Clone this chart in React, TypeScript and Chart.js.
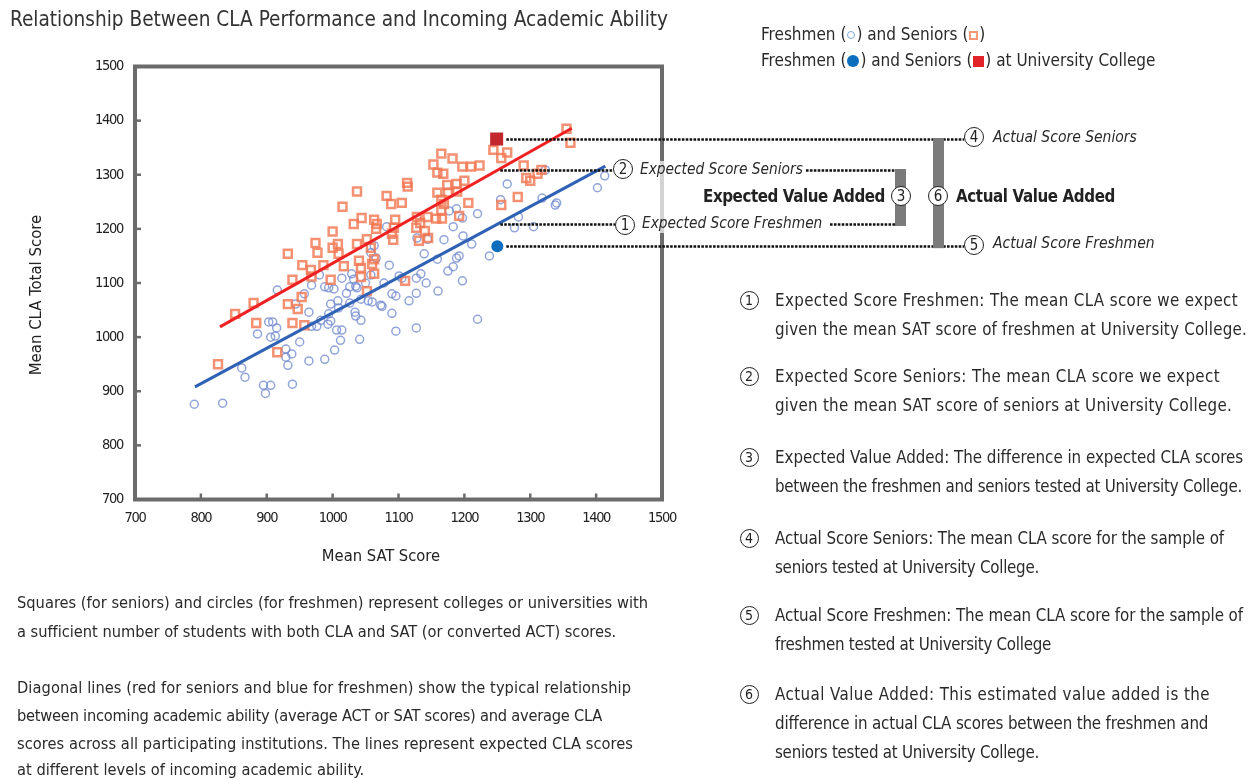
import React, { useEffect, useLayoutEffect, useRef } from "react";
import { Chart, registerables } from "chart.js";
Chart.register(...registerables);

const FONT = '"Liberation Sans Narrow", "DejaVu Sans Condensed", Roboto, sans-serif';

const xTicks = [700, 800, 900, 1000, 1100, 1200, 1300, 1400, 1500];
const yTicks = [700, 800, 900, 1000, 1100, 1200, 1300, 1400, 1500];

const seniorSAT = [826, 852, 880, 884, 916, 932, 939, 947, 953, 957, 932, 939, 954, 967, 977, 986, 997, 1009, 1017, 1040, 1043, 1052, 1063, 1063, 974, 968, 1000, 1000, 1008, 1015, 1032, 1037, 1037, 1244, 1256, 1265, 1290, 1294, 1281, 1256, 1165, 1182, 1153, 1159, 1168, 1197, 1210, 1223, 1200, 1188, 1174, 1189, 1175, 1159, 1165, 1169, 1206, 1113, 1114, 1082, 1089, 1105, 1044, 1063, 1067, 1066, 1095, 1093, 1090, 1092, 1128, 1133, 1144, 1157, 1166, 1165, 1192, 1127, 1140, 1145, 1131, 1043, 1060, 1058, 1052, 1110, 1355, 1361, 1300, 1311, 1317];
const seniorCLA = [950, 1043, 1063, 1026, 972, 1061, 1026, 1052, 1074, 1022, 1154, 1106, 1133, 1124, 1156, 1133, 1106, 1154, 1131, 1141, 1111, 1085, 1117, 1144, 1174, 1112, 1195, 1165, 1172, 1241, 1209, 1269, 1172, 1346, 1331, 1341, 1317, 1294, 1259, 1244, 1339, 1330, 1319, 1304, 1302, 1315, 1315, 1317, 1289, 1283, 1281, 1269, 1267, 1267, 1254, 1246, 1248, 1285, 1278, 1261, 1246, 1248, 1220, 1217, 1209, 1200, 1217, 1202, 1191, 1180, 1222, 1211, 1222, 1219, 1219, 1235, 1224, 1202, 1196, 1183, 1178, 1128, 1135, 1165, 1181, 1104, 1385, 1359, 1289, 1302, 1309];

const freshmanSAT = [790, 833, 862, 867, 895, 906, 898, 939, 886, 903, 909, 906, 915, 913, 929, 929, 938, 932, 950, 964, 988, 1003, 1012, 1041, 916, 944, 964, 968, 976, 993, 994, 997, 1006, 997, 1008, 968, 957, 988, 994, 1002, 1014, 1029, 1021, 1026, 1035, 1026, 1034, 1035, 1043, 1043, 1054, 1060, 1050, 1058, 1066, 1073, 980, 1032, 1009, 982, 1265, 1255, 1282, 1276, 1238, 1220, 1211, 1198, 1197, 1188, 1177, 1183, 1169, 1192, 1188, 1183, 1175, 1197, 1160, 1159, 1139, 1128, 1144, 1134, 1127, 1142, 1127, 1116, 1105, 1101, 1086, 1082, 1090, 1096, 1075, 1090, 1127, 1096, 1078, 1058, 1063, 1220, 1037, 1014, 1323, 1340, 1338, 1318, 1305, 1402, 1413];
const freshmanCLA = [876, 878, 943, 926, 911, 911, 896, 913, 1006, 1028, 1028, 1000, 1017, 1002, 978, 963, 969, 948, 991, 956, 959, 976, 994, 996, 1087, 1061, 1046, 1020, 1020, 1024, 1043, 1030, 1013, 1061, 1067, 1096, 1080, 1093, 1091, 1089, 1109, 1117, 1081, 1093, 1094, 1063, 1046, 1039, 1031, 1070, 1067, 1065, 1100, 1115, 1146, 1059, 1115, 1107, 1054, 1031, 1283, 1254, 1222, 1202, 1150, 1228, 1172, 1187, 1220, 1237, 1233, 1204, 1180, 1150, 1146, 1130, 1122, 1104, 1085, 1144, 1154, 1183, 1181, 1117, 1109, 1100, 1081, 1067, 1109, 1113, 1133, 1204, 1080, 1076, 1057, 1044, 1017, 1011, 1100, 1156, 1169, 1033, 1091, 1013, 1309, 1248, 1244, 1257, 1204, 1276, 1298];

const ucSeniorSAT = 1249;
const ucSeniorCLA = 1366;
const ucFreshmanSAT = 1250;
const ucFreshmanCLA = 1168;

const seniorLineSAT = [829, 1363];
const seniorLineCLA = [1019, 1386];
const freshmanLineSAT = [791, 1414];
const freshmanLineCLA = [908, 1316];

function lineAt(xs: number[], ys: number[], v: number) {
  return ys[0] + ((ys[1] - ys[0]) / (xs[1] - xs[0])) * (v - xs[0]);
}

const pts = (xs: number[], ys: number[]) => xs.map((x, i) => ({ x, y: ys[i] }));

const tickSpacing = {
  id: "tickSpacing",
  beforeDraw(chart: any) {
    chart.ctx.letterSpacing = "-1.3px";
  },
  afterDraw(chart: any) {
    chart.ctx.letterSpacing = "0px";
  },
};

const annotPlugin = {
  id: "annot",
  afterDraw(chart: any) {
    const { ctx, chartArea: a } = chart;
    const x = chart.scales.x;
    const y = chart.scales.y;
    ctx.save();
    ctx.strokeStyle = "#6b6b6b";
    ctx.lineWidth = 4;
    ctx.strokeRect(a.left, a.top, a.right - a.left, a.bottom - a.top);
    ctx.lineWidth = 2.5;
    yTicks.slice(1, -1).forEach((v) => {
      const py = y.getPixelForValue(v);
      ctx.beginPath();
      ctx.moveTo(a.left, py);
      ctx.lineTo(a.left + 6, py);
      ctx.stroke();
    });
    xTicks.slice(1, -1).forEach((v) => {
      const px = x.getPixelForValue(v);
      ctx.beginPath();
      ctx.moveTo(px, a.bottom);
      ctx.lineTo(px, a.bottom - 6);
      ctx.stroke();
    });
    const yAS = y.getPixelForValue(ucSeniorCLA);
    const yAF = y.getPixelForValue(ucFreshmanCLA);
    const yES = y.getPixelForValue(lineAt(seniorLineSAT, seniorLineCLA, ucFreshmanSAT));
    const yEF = y.getPixelForValue(lineAt(freshmanLineSAT, freshmanLineCLA, ucFreshmanSAT));
    const xu = x.getPixelForValue(ucFreshmanSAT);
    ctx.strokeStyle = "#111";
    ctx.lineWidth = 2.3;
    ctx.setLineDash([2.6, 1.3]);
    const seg = (x0: number, yy: number, x1: number) => {
      ctx.beginPath();
      ctx.moveTo(x0, Math.round(yy) + 0.5);
      ctx.lineTo(x1, Math.round(yy) + 0.5);
      ctx.stroke();
    };
    seg(xu + 9, yAS, 964);
    seg(xu + 9, yAF, 964);
    seg(xu + 3, yES, 613);
    seg(806, yES, 895);
    seg(xu + 3, yEF, 615);
    seg(830, yEF, 895);
    ctx.setLineDash([]);
    ctx.fillStyle = "#7b7b7b";
    ctx.fillRect(895, Math.round(yES) - 1, 11, yEF - yES + 3);
    ctx.fillRect(933, Math.round(yAS) - 1, 11, yAF - yAS + 3);
    ctx.restore();
  },
};

const circ = (cx: number, cy: number, n: string, d = 20, bw = 1.5, fs = 15) => (
  <div
    style={{
      position: "absolute",
      left: cx - d / 2,
      top: cy - d / 2,
      width: d,
      height: d,
      boxSizing: "border-box",
      border: `${bw}px solid #222`,
      borderRadius: "50%",
      background: "#fff",
      display: "flex",
      alignItems: "center",
      justifyContent: "center",
      fontSize: fs,
      lineHeight: 1,
      color: "#222",
      fontFamily: FONT,
    }}
  >
    {n}
  </div>
);

const T = (left: number, cy: number, text: React.ReactNode, extra: any = {}, fit?: number) => (
  <div
    data-fit={fit}
    style={{
      position: "absolute",
      left,
      top: cy - 12,
      height: 24,
      lineHeight: "24px",
      whiteSpace: "nowrap",
      fontFamily: FONT,
      color: "#2a2a2a",
      fontSize: 17,
      ...extra,
    }}
  >
    {text}
  </div>
);

// [text, right edge in the layout]
const listItems = [
  { n: "1", y: 300, lines: ["Expected Score Freshmen: The mean CLA score we expect", "given the mean SAT score of freshmen at University College."], ends: [1238, 1247] },
  { n: "2", y: 376, lines: ["Expected Score Seniors: The mean CLA score we expect", "given the mean SAT score of seniors at University College."], ends: [1220, 1232] },
  { n: "3", y: 457, lines: ["Expected Value Added: The difference in expected CLA scores", "between the freshmen and seniors tested at University College."], ends: [1243, 1242] },
  { n: "4", y: 538, lines: ["Actual Score Seniors: The mean CLA score for the sample of", "seniors tested at University College."], ends: [1224, 1039] },
  { n: "5", y: 615, lines: ["Actual Score Freshmen: The mean CLA score for the sample of", "freshmen tested at University College"], ends: [1243, 1051] },
  { n: "6", y: 694, lines: ["Actual Value Added: This estimated value added is the", "difference in actual CLA scores between the freshmen and", "seniors tested at University College."], ends: [1210, 1208, 1039] },
];

const bottomLines = [
  { y: 603, end: 648, t: "Squares (for seniors) and circles (for freshmen) represent colleges or universities with" },
  { y: 632, end: 616, t: "a sufficient number of students with both CLA and SAT (or converted ACT) scores." },
  { y: 688, end: 631, t: "Diagonal lines (red for seniors and blue for freshmen) show the typical relationship" },
  { y: 716, end: 602, t: "between incoming academic ability (average ACT or SAT scores) and average CLA" },
  { y: 744, end: 633, t: "scores across all participating institutions. The lines represent expected CLA scores" },
  { y: 770, end: 364, t: "at different levels of incoming academic ability." },
];

export default function App() {
  const ref = useRef<HTMLCanvasElement>(null);
  const rootRef = useRef<HTMLDivElement>(null);

  useLayoutEffect(() => {
    const root = rootRef.current;
    if (!root) return;
    root.querySelectorAll<HTMLElement>("[data-fit]").forEach((el) => {
      const target = Number(el.dataset.fit);
      el.style.letterSpacing = "0px";
      const w = el.getBoundingClientRect().width;
      const n = (el.textContent || "").length;
      if (n > 1 && target > 0) el.style.letterSpacing = `${(target - w) / n}px`;
    });
  }, []);

  useEffect(() => {
    if (!ref.current) return;
    const chart = new Chart(ref.current, {
      type: "scatter",
      data: {
        datasets: [
          {
            label: "UC Seniors",
            data: [{ x: ucSeniorSAT, y: ucSeniorCLA }],
            pointStyle: "rect",
            pointRadius: 9.2,
            backgroundColor: "#c3272e",
            borderWidth: 0,
          },
          {
            label: "UC Freshmen",
            data: [{ x: ucFreshmanSAT, y: ucFreshmanCLA }],
            pointStyle: "circle",
            pointRadius: 6,
            backgroundColor: "#0b6dbb",
            borderWidth: 0,
          },
          {
            label: "Senior line",
            data: pts(seniorLineSAT, seniorLineCLA),
            showLine: true,
            pointRadius: 0,
            borderColor: "#ee2222",
            borderWidth: 3,
          },
          {
            label: "Freshman line",
            data: pts(freshmanLineSAT, freshmanLineCLA),
            showLine: true,
            pointRadius: 0,
            borderColor: "#2f62b5",
            borderWidth: 3,
          },
          {
            label: "Seniors",
            data: pts(seniorSAT, seniorCLA),
            pointStyle: "rect",
            pointRadius: 5.6,
            backgroundColor: "rgba(255,255,255,0)",
            borderColor: "rgba(242,118,80,0.8)",
            borderWidth: 2.5,
          },
          {
            label: "Freshmen",
            data: pts(freshmanSAT, freshmanCLA),
            pointStyle: "circle",
            pointRadius: 4,
            backgroundColor: "rgba(255,255,255,0)",
            borderColor: "rgba(110,135,205,0.75)",
            borderWidth: 1.5,
          },
        ],
      },
      options: {
        animation: false,
        responsive: false,
        devicePixelRatio: 1,
        layout: { padding: { top: 66.5, right: 588, left: 0, bottom: 0 } },
        plugins: { legend: { display: false }, tooltip: { enabled: false } },
        scales: {
          x: {
            type: "linear",
            min: 700,
            max: 1500,
            afterBuildTicks: (s: any) => {
              s.ticks = xTicks.map((v) => ({ value: v }));
            },
            afterFit: (s: any) => {
              s.height = 780 - 499.5;
            },
            grid: { display: false, drawTicks: false },
            border: { display: false },
            ticks: { font: { family: FONT, size: 14.5 }, color: "#222", padding: 10, maxRotation: 0, callback: (v: any) => String(v) },
          },
          y: {
            type: "linear",
            min: 700,
            max: 1500,
            afterBuildTicks: (s: any) => {
              s.ticks = yTicks.map((v) => ({ value: v }));
            },
            afterFit: (s: any) => {
              s.width = 135;
            },
            grid: { display: false, drawTicks: false },
            border: { display: false },
            ticks: { font: { family: FONT, size: 14.5 }, color: "#222", padding: 12, callback: (v: any) => String(v) },
          },
        },
      },
      plugins: [tickSpacing, annotPlugin],
    } as any);
    return () => chart.destroy();
  }, []);

  return (
    <div ref={rootRef} style={{ position: "absolute", left: 0, top: 0, width: 1250, height: 780, background: "#fff", overflow: "hidden", fontFamily: FONT }}>
      <canvas ref={ref} width={1250} height={780} style={{ position: "absolute", left: 0, top: 0 }} />
      {T(10, 19, "Relationship Between CLA Performance and Incoming Academic Ability", { fontSize: 20.6, color: "#333" }, 658)}
      {T(761, 34, <>Freshmen (<span style={{ display: "inline-block", width: 8, height: 8, boxSizing: "border-box", border: "1.5px solid #7fa6dc", borderRadius: "50%", margin: "0 1px", verticalAlign: "middle" }} />) and Seniors (<span style={{ display: "inline-block", width: 9, height: 9, boxSizing: "border-box", border: "2.5px solid #f59a78", margin: "0 1px", verticalAlign: "middle" }} />)</>)}
      {T(761, 60, <>Freshmen (<span style={{ display: "inline-block", width: 12, height: 12, background: "#0b6dbb", borderRadius: "50%", margin: "0 1px", verticalAlign: "middle" }} />) and Seniors (<span style={{ display: "inline-block", width: 11, height: 11, background: "#e2232a", margin: "0 1px", verticalAlign: "middle" }} />) at University College</>)}
      <div style={{ position: "absolute", left: 36 - 100, top: 295 - 12, width: 200, height: 24, lineHeight: "24px", textAlign: "center", transform: "rotate(-90deg)", fontSize: 16.6, color: "#222", whiteSpace: "nowrap" }}>Mean CLA Total Score</div>
      <div style={{ position: "absolute", left: 381 - 100, top: 556 - 12, width: 200, height: 24, lineHeight: "24px", textAlign: "center", fontSize: 16.4, color: "#222", whiteSpace: "nowrap" }}>Mean SAT Score</div>
      <div style={{ position: "absolute", left: 655, top: 161, width: 14, height: 72, background: "rgba(255,255,255,0.7)" }} />
      {circ(623, 169, "2")}
      {T(640, 169, "Expected Score Seniors", { fontStyle: "italic", fontSize: 15.3 })}
      {circ(625, 225, "1")}
      {T(642, 223, "Expected Score Freshmen", { fontStyle: "italic", fontSize: 15.3 })}
      {T(703, 196, "Expected Value Added", { fontWeight: "bold", fontSize: 16.8, color: "#222" }, 182)}
      {circ(901, 196, "3")}
      {circ(938, 196, "6")}
      {T(956, 196, "Actual Value Added", { fontWeight: "bold", fontSize: 16.8, color: "#222" }, 159)}
      {circ(974, 137, "4")}
      {T(993, 137, "Actual Score Seniors", { fontStyle: "italic", fontSize: 15.5 })}
      {circ(974, 245, "5")}
      {T(993, 243, "Actual Score Freshmen", { fontStyle: "italic", fontSize: 15.5 })}
      {listItems.map((it) => (
        <React.Fragment key={it.n}>
          {circ(749, it.y, it.n, 19, 1, 14)}
          {it.lines.map((l, i) => (
            <React.Fragment key={i}>{T(775, it.y + i * 29, l, { fontSize: 16.8 }, it.ends[i] - 775)}</React.Fragment>
          ))}
        </React.Fragment>
      ))}
      {bottomLines.map((b, i) => (
        <React.Fragment key={i}>{T(17, b.y, b.t, { fontSize: 16.3 }, b.end - 17)}</React.Fragment>
      ))}
    </div>
  );
}
